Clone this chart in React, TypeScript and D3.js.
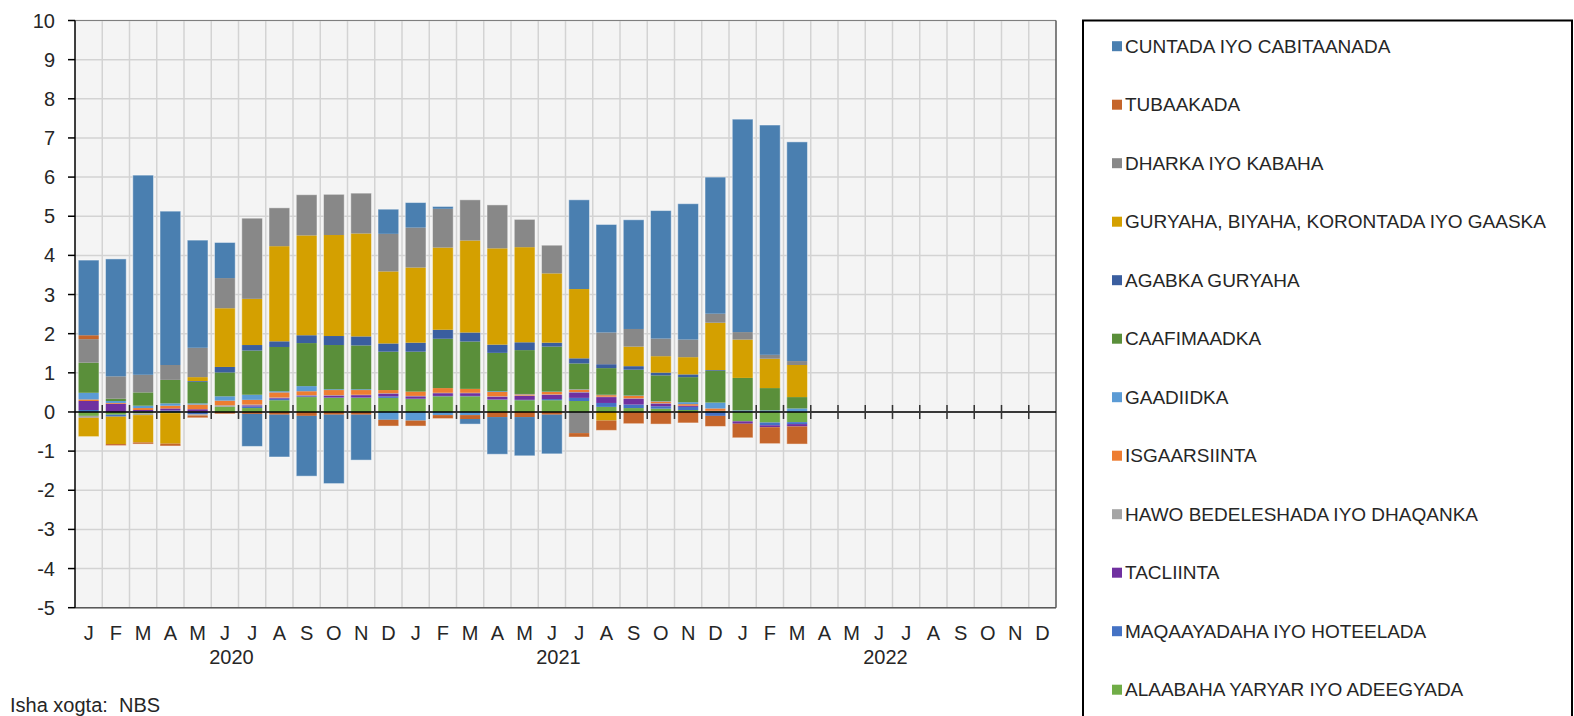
import React from 'react';
import * as d3 from 'd3';

// month labels & years on the category axis
const monthLabels = ['J', 'F', 'M', 'A', 'M', 'J', 'J', 'A', 'S', 'O', 'N', 'D'];
const years = ['2020', '2021', '2022'];
const categories = years.flatMap((y) => monthLabels.map((_, i) => `${y}-${i + 1}`));

// contributions (percentage points), Jan 2020 .. Mar 2022
const cuntada = [1.92, 3.0, 5.1, 3.93, 2.75, 0.91, -0.83, -1.08, -1.54, -1.76, -1.16, 0.63, 0.64, 0.06, -0.13, -0.95, -0.99, -1.0, 2.28, 2.76, 2.79, 3.27, 3.47, 3.49, 5.44, 5.87, 5.6];
const tubaakada = [0.1, -0.04, -0.04, -0.06, -0.06, -0.05, -0.05, -0.07, -0.1, -0.07, -0.07, -0.16, -0.14, -0.09, -0.1, -0.13, -0.13, -0.07, -0.1, -0.25, -0.3, -0.31, -0.28, -0.27, -0.36, -0.42, -0.45];
const dharka = [0.6, 0.57, 0.45, 0.38, 0.75, 0.77, 2.06, 0.98, 1.04, 1.04, 1.03, 0.96, 1.02, 0.99, 1.04, 1.11, 0.71, 0.72, -0.54, 0.81, 0.45, 0.45, 0.45, 0.23, 0.19, 0.1, 0.1];
const guryaha = [-0.48, -0.7, -0.7, -0.78, 0.1, 1.5, 1.18, 2.43, 2.55, 2.58, 2.63, 1.84, 1.92, 2.1, 2.35, 2.46, 2.43, 1.77, 1.77, -0.22, 0.5, 0.42, 0.44, 1.21, 0.98, 0.75, 0.82];
const agabka = [0, 0, 0, 0, 0.02, 0.14, 0.14, 0.145, 0.2, 0.23, 0.23, 0.21, 0.23, 0.23, 0.23, 0.21, 0.2, 0.1, 0.13, 0.1, 0.09, 0.07, 0.07, 0.02, 0, 0, 0];
const caafimaadka = [0.77, 0.06, 0.34, 0.6, 0.55, 0.61, 1.13, 1.13, 1.1, 1.13, 1.12, 0.98, 1.02, 1.26, 1.21, 0.98, 1.12, 1.15, 0.66, 0.68, 0.66, 0.66, 0.64, 0.81, 0.83, 0.57, 0.29];
const gaadiidka = [0.17, 0.05, 0.06, 0.06, 0.03, 0.11, 0.13, 0.03, 0.13, 0.02, 0.02, -0.2, -0.22, -0.08, -0.08, 0.02, 0.01, 0.01, 0.01, 0.01, 0.01, 0.01, 0.05, 0.15, 0.04, 0.04, 0.09];
const isgaarsiinta = [0.04, 0.02, 0.05, 0.07, 0.12, 0.12, 0.12, 0.13, 0.1, 0.13, 0.12, 0.08, 0.11, 0.12, 0.1, 0.11, 0.03, 0.06, 0.06, 0.04, 0.06, 0.04, 0.04, 0.06, 0, 0, 0];
const hawo = [-0.05, 0, -0.04, 0, -0.03, 0.04, 0.02, 0.01, 0.01, 0.01, 0.01, 0.01, 0.01, 0.01, 0.01, 0.01, 0.01, 0.01, 0.01, 0.01, 0.01, 0.01, 0, 0, 0, 0, 0];
const tacliinta = [0.23, 0.21, 0.03, 0.05, 0.06, 0, 0.03, 0.02, 0.02, 0.05, 0.06, 0.07, 0.06, 0.07, 0.07, 0.07, 0.1, 0.11, 0.14, 0.15, 0.15, 0.07, 0.03, 0.01, -0.06, -0.05, -0.06];
const maqaayadaha = [0.05, -0.05, 0.02, 0.04, -0.06, 0, 0.04, 0.04, 0.02, 0.01, 0.01, 0.04, 0.01, 0.01, 0.01, 0.01, 0.01, 0.03, 0.08, 0.1, 0.09, 0.06, 0.08, -0.1, 0, -0.07, -0.05];
const alaabaha = [-0.1, -0.07, -0.04, -0.03, 0.01, 0.13, 0.1, 0.3, 0.38, 0.36, 0.36, 0.36, 0.33, 0.4, 0.4, 0.31, 0.3, 0.3, 0.28, 0.13, 0.1, 0.085, 0.05, 0.02, -0.24, -0.27, -0.26];

// legend order (top of stack first)
const seriesNames = [
  'CUNTADA IYO CABITAANADA',
  'TUBAAKADA',
  'DHARKA IYO KABAHA',
  'GURYAHA, BIYAHA, KORONTADA IYO GAASKA',
  'AGABKA GURYAHA',
  'CAAFIMAADKA',
  'GAADIIDKA',
  'ISGAARSIINTA',
  'HAWO BEDELESHADA IYO DHAQANKA',
  'TACLIINTA',
  'MAQAAYADAHA IYO HOTEELADA',
  'ALAABAHA YARYAR IYO ADEEGYADA',
];
const seriesColors = ['#4a7fb0', '#c5652a', '#888888', '#d4a000', '#3a5e9f', '#5a8f3a', '#5b9bd5', '#ed7d31', '#a5a5a5', '#7030a0', '#4472c4', '#70ad47'];
const seriesValues = [cuntada, tubaakada, dharka, guryaha, agabka, caafimaadka, gaadiidka, isgaarsiinta, hawo, tacliinta, maqaayadaha, alaabaha];

const yTicks = d3.range(-5, 11);

const W = 1574;
const H = 716;
const plot = { left: 75, right: 1056, top: 20.5, bottom: 607.7 };
const font = 'Liberation Sans, Arial, sans-serif';

export default function App() {
  const x = d3.scaleBand<string>().domain(categories).range([plot.left, plot.right]).paddingInner(0.24).paddingOuter(0.12);
  const step = (plot.right - plot.left) / categories.length;
  const y = d3.scaleLinear().domain([-5, 10]).range([plot.bottom, plot.top]);

  const rows = cuntada.map((_, i) => {
    const row: Record<string, number | string> = { cat: categories[i] };
    seriesNames.forEach((n, s) => (row[n] = seriesValues[s][i]));
    return row;
  });
  const stackKeys = [...seriesNames].reverse();
  const stacked = d3.stack<any>().keys(stackKeys).offset(d3.stackOffsetDiverging)(rows);

  const y0 = y(0);

  return (
    <svg width={W} height={H} style={{ position: 'absolute', left: 0, top: 0, background: '#fff' }} fontFamily={font}>
      <rect x={plot.left} y={plot.top} width={plot.right - plot.left} height={plot.bottom - plot.top} fill="#f4f4f4" />
      {/* grid */}
      {yTicks.map((t) => (
        <line key={'h' + t} x1={plot.left} x2={plot.right} y1={y(t)} y2={y(t)} stroke="#d3d3d3" strokeWidth={1.5} />
      ))}
      {d3.range(1, categories.length).map((k) => (
        <line key={'v' + k} x1={plot.left + k * step} x2={plot.left + k * step} y1={plot.top} y2={plot.bottom} stroke="#d3d3d3" strokeWidth={1.5} />
      ))}
      {/* bars */}
      {stacked.map((layer) => {
        const color = seriesColors[seriesNames.indexOf(layer.key)];
        return (
          <g key={layer.key} fill={color}>
            {layer.map((d, i) => {
              const a = y(d[0]);
              const b = y(d[1]);
              const h = Math.abs(a - b);
              if (h < 0.01) return null;
              return <rect key={i} x={x(categories[i])} width={x.bandwidth()} y={Math.min(a, b)} height={h} />;
            })}
          </g>
        );
      })}
      {/* faint bar outline */}
      {rows.map((r, i) => {
        const vals = seriesValues.map((s) => s[i]);
        const pos = d3.sum(vals.filter((v) => v > 0));
        const neg = d3.sum(vals.filter((v) => v < 0));
        return (
          <rect key={'o' + i} x={x(categories[i])} width={x.bandwidth()} y={y(pos)} height={y(neg) - y(pos)} fill="none" stroke="#ffffff" strokeOpacity={0.45} strokeWidth={1} />
        );
      })}
      {/* borders */}
      <line x1={plot.left} x2={plot.right} y1={plot.top} y2={plot.top} stroke="#7f7f7f" strokeWidth={1} />
      <line x1={plot.right} x2={plot.right} y1={plot.top} y2={plot.bottom} stroke="#595959" strokeWidth={1.5} />
      <line x1={plot.left} x2={plot.right} y1={plot.bottom} y2={plot.bottom} stroke="#595959" strokeWidth={1.5} />
      {/* zero axis with ticks */}
      <line x1={plot.left} x2={plot.right} y1={y0} y2={y0} stroke="#000" strokeWidth={1.5} />
      {d3.range(1, categories.length).map((k) => (
        <line key={'t' + k} x1={plot.left + k * step} x2={plot.left + k * step} y1={y0 - 7} y2={y0 + 7} stroke="#333" strokeWidth={1.5} />
      ))}
      {/* y axis */}
      <line x1={plot.left} x2={plot.left} y1={plot.top} y2={plot.bottom} stroke="#000" strokeWidth={1.5} />
      {yTicks.map((t) => (
        <g key={'yt' + t}>
          <line x1={plot.left - 7} x2={plot.left} y1={y(t)} y2={y(t)} stroke="#000" strokeWidth={1.5} />
          <text x={55} y={y(t)} dy="0.35em" textAnchor="end" fontSize={20} fill="#262626">
            {t}
          </text>
        </g>
      ))}
      {/* month labels */}
      {categories.map((c, i) => (
        <text key={'m' + c} x={x(c)! + x.bandwidth() / 2} y={640} textAnchor="middle" fontSize={20} fill="#262626">
          {monthLabels[i % 12]}
        </text>
      ))}
      {years.map((yr, j) => (
        <text key={yr} x={plot.left + (j * 12 + 6) * step - 7} y={664} textAnchor="middle" fontSize={20} fill="#262626">
          {yr}
        </text>
      ))}
      <text x={10} y={712} fontSize={20} fill="#262626" xmlSpace="preserve">
        Isha xogta:  NBS
      </text>
      {/* legend */}
      <rect x={1083} y={20.5} width={489} height={720} fill="#fff" stroke="#000" strokeWidth={2} />
      {seriesNames.map((n, i) => {
        const cy = 46.2 + i * 58.5;
        return (
          <g key={'l' + n}>
            <rect x={1112} y={cy - 5} width={10} height={10} fill={seriesColors[i]} />
            <text x={1125} y={cy} dy="0.35em" fontSize={19} fill="#262626">
              {n}
            </text>
          </g>
        );
      })}
    </svg>
  );
}
